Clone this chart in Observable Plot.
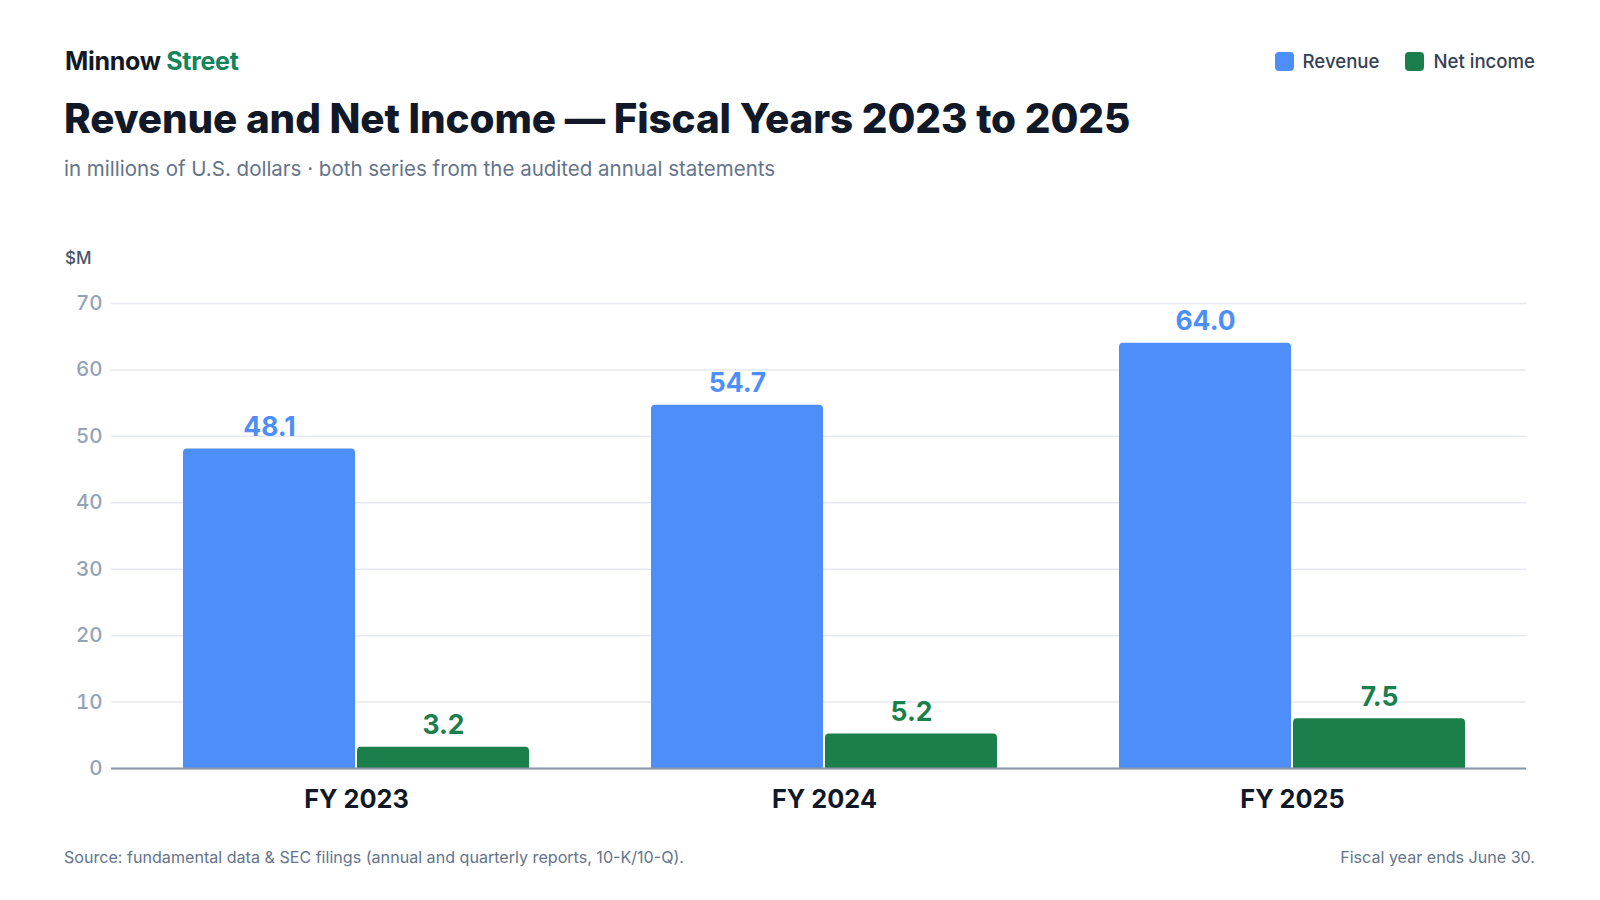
<!DOCTYPE html>
<html>
<head>
<meta charset="utf-8">
<script src="https://cdn.jsdelivr.net/npm/d3@7"></script>
<script src="https://cdn.jsdelivr.net/npm/@observablehq/plot@0.6"></script>
<style>
  html, body { margin: 0; padding: 0; background: #ffffff; }
  body { font-family: Inter, "Noto Sans", sans-serif; }
  #page { position: relative; width: 1600px; height: 900px; overflow: hidden; }
  .abs { position: absolute; line-height: 1; white-space: nowrap; }
  #brand { left: 65px; top: 49px; font-size: 25px; font-weight: 700; color: #111827; letter-spacing: -0.3px; }
  #brand span { color: #14855b; }
  #title { left: 64px; top: 99px; font-size: 40.4px; font-weight: 800; color: #111827; letter-spacing: -0.1px; }
  #subtitle { left: 64px; top: 159px; font-size: 20.5px; font-weight: 400; color: #64748b; }
  #legend { right: 65px; top: 52px; display: flex; gap: 0; font-size: 18.6px; font-weight: 500; color: #334155; }
  .li { display: flex; align-items: center; margin-left: 26px; }
  .sw { width: 19px; height: 19px; border-radius: 4px; margin-right: 9px; }
  #unit { left: 65px; top: 250px; font-size: 17px; font-weight: 500; color: #475569; }
  #source { left: 64px; top: 849px; font-size: 16.1px; color: #64748b; }
  #note { right: 65px; top: 849px; font-size: 16.1px; color: #64748b; }
  .layer { position: absolute; left: 0; top: 200px; }
</style>
</head>
<body>
<div id="page">
  <div id="brand" class="abs">Minnow <span>Street</span></div>
  <div id="title" class="abs">Revenue and Net Income — Fiscal Years 2023 to 2025</div>
  <div id="subtitle" class="abs">in millions of U.S. dollars · both series from the audited annual statements</div>
  <div id="legend" class="abs"></div>
  <div id="unit" class="abs">$M</div>
  <div id="back" class="layer"></div>
  <div id="front" class="layer"></div>
  <div id="top" class="layer"></div>
  <div id="source" class="abs">Source: fundamental data &amp; SEC filings (annual and quarterly reports, 10-K/10-Q).</div>
  <div id="note" class="abs">Fiscal year ends June 30.</div>
</div>
<script>
const years = ["FY 2023", "FY 2024", "FY 2025"];
const series = ["Revenue", "Net income"];
const revenue = [48.1, 54.7, 64.0];
const netIncome = [3.2, 5.2, 7.5];
const yTicks = [0, 10, 20, 30, 40, 50, 60, 70];
const colors = ["#4d8ef8", "#1b7f4c"];

const data = years.flatMap((y, i) => [
  {year: y, series: series[0], value: revenue[i]},
  {year: y, series: series[1], value: netIncome[i]}
]);

// legend
const legend = document.getElementById("legend");
series.forEach((s, i) => {
  const item = document.createElement("div");
  item.className = "li";
  const sw = document.createElement("div");
  sw.className = "sw";
  sw.style.background = colors[i];
  const t = document.createElement("span");
  t.textContent = s;
  item.appendChild(sw);
  item.appendChild(t);
  legend.appendChild(item);
});

const common = {
  width: 1600,
  height: 640,
  marginTop: 103,
  marginBottom: 72,
  marginLeft: 111,
  marginRight: 74,
  style: {fontFamily: "Inter, sans-serif", background: "transparent", overflow: "visible"},
  y: {domain: [0, 70], axis: null}
};

// background: grid + y axis
const back = Plot.plot({
  ...common,
  x: {domain: [0, 1], axis: null},
  marks: [
    Plot.gridY(yTicks, {stroke: "#e6e9ef", strokeOpacity: 1, strokeWidth: 1.5}),
    Plot.axisY(yTicks, {tickSize: 0, tickPadding: 9, fontSize: 20.5, fontWeight: 500, fill: "#94a3b8", label: null})
  ]
});

// middle: grouped bars, value labels, fiscal-year axis
const front = Plot.plot({
  ...common,
  fx: {domain: years, paddingInner: 0.257, paddingOuter: 0.1387, align: 0.539, label: null},
  x: {domain: series, padding: 0, axis: null},
  color: {domain: series, range: colors},
  marks: [
    Plot.barY(data, {fx: "year", x: "series", y: "value", fill: "series", insetLeft: 1, insetRight: 1, ry1: 4}),
    Plot.text(data, {fx: "year", x: "series", y: "value", text: d => d.value.toFixed(1), fill: "series", fontSize: 26.5, fontWeight: 700, dy: -13, lineAnchor: "bottom"}),
    Plot.axisFx({anchor: "bottom", tickSize: 0, tickPadding: 22, fontSize: 25.3, fontWeight: 700, fill: "#111827", label: null})
  ]
});

// top: baseline
const topLayer = Plot.plot({
  ...common,
  x: {domain: [0, 1], axis: null},
  marks: [
    Plot.ruleY([0], {stroke: "#8a94a8", strokeWidth: 2})
  ]
});

document.getElementById("back").appendChild(back);
document.getElementById("front").appendChild(front);
document.getElementById("top").appendChild(topLayer);
</script>
</body>
</html>
